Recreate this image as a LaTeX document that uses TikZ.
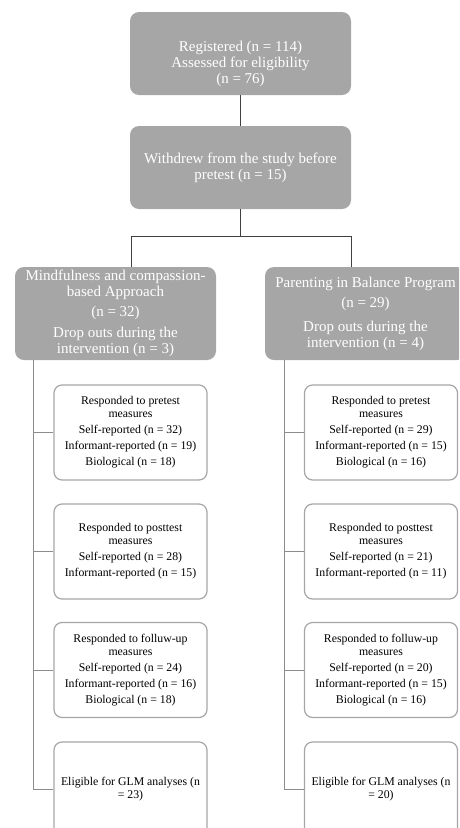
\documentclass[tikz,border=0pt]{standalone}
\usepackage{fontspec}
\setmainfont{Liberation Serif}
\definecolor{flowGrey}{HTML}{A6A6A6}
\definecolor{flowLine}{HTML}{404040}
\definecolor{spineLine}{HTML}{8C8C8C}

\begin{document}
\begin{tikzpicture}[x=1pt,y=-1pt,
    greybox/.style={fill=flowGrey, text=white, rounded corners=9pt, align=center, inner sep=2pt,
      font=\fontsize{15}{16}\selectfont},
    measbox/.style={draw=flowGrey, line width=1.2pt, fill=white, rounded corners=8pt, align=center,
      inner sep=2pt, minimum width=153pt, minimum height=95pt, font=\fontsize{11.8}{13}\selectfont},
    link/.style={draw=flowLine, line width=0.9pt},
    branch/.style={draw=spineLine, line width=1pt}]
  \useasboundingbox (0,0) rectangle (459,828);
  \clip (0,0) rectangle (459,828);
  \node[greybox, minimum width=221pt, minimum height=83pt] (reg) at (240.5,53.5)
    {\rule{0pt}{31pt}Registered (n = 114)\\Assessed for eligibility\\(n = 76)};
  \node[greybox, minimum width=221pt, minimum height=83pt] (wd) at (240.5,167.5)
    {Withdrew from the study before\\pretest (n = 15)};
  \node[greybox, minimum width=201pt, minimum height=93pt] (mcb) at (115.5,313.5)
    {Mindfulness and compassion-\\based Approach\\[4pt](n = 32)\\[5pt]Drop outs during the\\intervention (n = 3)};
  \node[greybox, minimum width=201pt, minimum height=93pt] (pib) at (365.5,313.5)
    {Parenting in Balance Program\\[4pt](n = 29)\\[8pt]Drop outs during the\\intervention (n = 4)};
  \node[measbox] (pre1) at (130.5,432.5)
    {Responded to pretest\\measures\\[3pt]Self-reported (n = 32)\\[3pt]Informant-reported (n = 19)\\[3pt]Biological (n = 18)};
  \node[measbox] (post1) at (130.5,551.5)
    {Responded to posttest\\measures\\[3pt]Self-reported (n = 28)\\[3pt]Informant-reported (n = 15)};
  \node[measbox] (fu1) at (130.5,670)
    {Responded to folluw-up\\measures\\[3pt]Self-reported (n = 24)\\[3pt]Informant-reported (n = 16)\\[3pt]Biological (n = 18)};
  \node[measbox] (elig1) at (130.5,789.5) {Eligible for GLM analyses (n\\= 23)};
  \node[measbox] (pre2) at (381,432.5)
    {Responded to pretest\\measures\\[3pt]Self-reported (n = 29)\\[3pt]Informant-reported (n = 15)\\[3pt]Biological (n = 16)};
  \node[measbox] (post2) at (381,551.5)
    {Responded to posttest\\measures\\[3pt]Self-reported (n = 21)\\[3pt]Informant-reported (n = 11)};
  \node[measbox] (fu2) at (381,670)
    {Responded to folluw-up\\measures\\[3pt]Self-reported (n = 20)\\[3pt]Informant-reported (n = 15)\\[3pt]Biological (n = 16)};
  \node[measbox] (elig2) at (381,789.5) {Eligible for GLM analyses (n\\= 20)};
  \coordinate (split) at (240.5,236);
  \coordinate (brL) at (131,236);
  \coordinate (brR) at (351,236);
  \coordinate (spL) at (33,0);
  \coordinate (spR) at (284,0);
  \draw[link] (reg) -- (wd);
  \draw[link] (wd) -- (split);
  \draw[link] (mcb.north -| brL) -- (brL) -- (brR) -- (pib.north -| brR);
  \draw[branch] (mcb.south -| spL) |- (elig1);
  \draw[branch] (pib.south -| spR) |- (elig2);
  \foreach \b in {pre1,post1,fu1}
    \draw[branch] (spL |- \b) -- (\b);
  \foreach \b in {pre2,post2,fu2}
    \draw[branch] (spR |- \b) -- (\b);
\end{tikzpicture}
\end{document}
